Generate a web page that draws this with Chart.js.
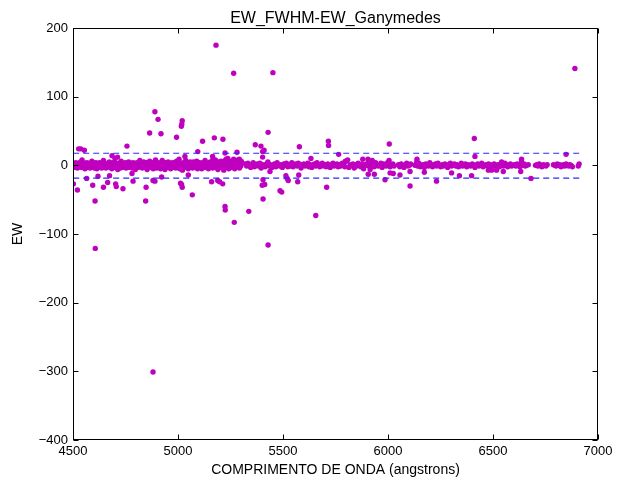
<!DOCTYPE html>
<html><head><meta charset="utf-8">
<script src="https://cdn.jsdelivr.net/npm/chart.js@4.4.0/dist/chart.umd.min.js"></script>
<style>html,body{margin:0;padding:0;background:#fff;} canvas{display:block;}</style>
</head><body>
<canvas id="c" width="627" height="477"></canvas>
<script>
const chartTitle = "EW_FWHM-EW_Ganymedes";
const xTitle = "COMPRIMENTO DE ONDA (angstrons)";
const yTitle = "EW";
const xTicks = [4500,5000,5500,6000,6500,7000];
const yTicks = [-400,-300,-200,-100,0,100,200];
const thresholds = [17.6,-18.6];
const thresholdSpan = [4501, 6911];

// dense band 4500-5300
const denseWl = [
4506,4509,4513,4518,4521,4525,4530,4533,4537,4541,4545,4550,4553,4557,4561,4566,4569,4573,4578,4581,
4585,4590,4593,4597,4602,4605,4609,4614,4617,4621,4626,4629,4633,4637,4642,4645,4649,4654,4657,4661,
4665,4670,4673,4677,4682,4685,4689,4693,4698,4701,4705,4710,4713,4717,4722,4725,4729,4733,4738,4741,
4745,4750,4753,4757,4762,4765,4769,4773,4778,4781,4785,4790,4793,4797,4802,4805,4809,4813,4818,4821,
4825,4830,4833,4837,4842,4845,4849,4853,4858,4861,4865,4870,4873,4877,4882,4885,4889,4893,4898,4901,
4905,4910,4913,4917,4922,4925,4929,4933,4938,4941,4945,4950,4953,4957,4962,4965,4969,4973,4978,4981,
4985,4990,4993,4997,5002,5005,5009,5013,5018,5021,5025,5030,5033,5037,5042,5045,5049,5053,5058,5061,
5065,5070,5073,5077,5082,5085,5089,5093,5098,5101,5105,5110,5113,5117,5122,5125,5129,5133,5138,5141,
5145,5150,5153,5157,5162,5165,5169,5173,5178,5181,5185,5190,5193,5197,5202,5205,5209,5213,5218,5221,
5225,5230,5233,5237,5242,5245,5249,5253,5258,5261,5265,5270,5273,5277,5282,5285,5289,5293,5298,5301,
5305];
const denseEw = [
2,-3,4,1,-4,3,0,-2,5,-3,1,4,-1,-5,2,4,-3,0,3,-4,
1,6,-2,3,-4,0,4,-5,2,-1,4,-3,3,-4,0,7,-2,3,-4,1,
-1,3,5,-3,2,-5,4,0,-3,4,-2,1,-6,3,2,-4,6,-1,3,-3,
0,4,-4,2,-2,5,-3,3,1,-4,4,-1,3,-6,2,4,-3,0,7,-2,
3,-4,1,5,-3,0,4,-6,3,-1,6,-3,2,4,-5,1,-2,8,-4,3,
-3,4,0,-5,3,7,-2,2,-6,4,1,-3,5,-1,3,-5,0,4,-3,2,
4,-4,6,1,-2,9,-5,3,0,-7,4,2,-3,7,-1,3,-5,1,5,-3,
2,-4,5,0,-3,3,6,-5,1,4,-2,3,-5,4,0,-3,7,2,-1,3,
-5,3,5,-2,1,-4,4,0,8,-3,2,-6,5,3,-3,6,-1,4,-7,3,
7,-3,5,10,-5,3,6,-3,0,6,9,-5,4,2,-2,8,5,-4,3,6,
4];
const dense2Wl = [
4508,4516,4523,4531,4540,4547,4555,4563,4571,4580,4587,4595,4603,4611,4619,4628,4635,4643,4651,4659,
4667,4675,4684,4691,4699,4708,4715,4723,4731,4740,4747,4755,4764,4771,4779,4787,4795,4804,4811,4819,
4827,4835,4844,4851,4859,4867,4875,4884,4891,4899,4907,4915,4924,4931,4939,4947,4955,4964,4971,4979,
4987,4995,5004,5011,5019,5027,5035,5044,5051,5059,5067,5075,5084,5091,5099,5107,5115,5124,5131,5139,
5147,5155,5164,5171,5179,5187,5195,5204,5211,5219,5227,5235,5244,5251,5259,5267,5275,5284,5291,5299];
const dense2Ew = [
0,-2,1,3,-1,2,-3,0,1,-2,3,-1,0,2,-3,1,-1,2,0,-2,
1,3,-2,0,2,-1,-3,1,0,3,-2,2,-1,0,1,-3,2,-1,3,0,
-1,2,0,-2,3,1,-1,0,-3,2,1,-2,0,3,-1,2,-2,1,0,-1,
2,0,-3,1,-1,3,0,-2,2,1,-1,0,3,-2,1,-1,2,0,-3,1,
0,2,-1,3,-2,1,0,-1,2,-3,1,3,-1,0,2,-2,1,0,3,-1];

// thinner band 5320-6910
const sparseWl = [
5322,5327,5333,5340,5346,5351,5358,5364,5371,5377,5383,5390,5396,5402,5409,5415,5421,5428,5434,5440,
5447,5453,5459,5466,5472,5478,5485,5491,5497,5504,5510,5516,5523,5529,5535,5542,5548,5554,5561,5567,
5573,5580,5586,5592,5599,5605,5611,5618,5624,5630,5637,5643,5649,5656,5662,5668,5675,5681,5687,5694,
5700,5706,5713,5719,5725,5732,5738,5744,5751,5757,5763,5770,5776,5782,5789,5795,5801,5808,5814,5820,
5827,5833,5839,5846,5852,5858,5865,5871,5877,5884,5890,5896,5903,5909,5915,5922,5928,5934,5941,5947,
5953,5960,5966,5972,5979,5985,5991,5998,6004,6010,6017,6023,6029,
6050,6056,6063,6069,6076,6082,6089,6095,6102,6108,
6128,6134,6141,6147,6154,6160,6167,6173,6180,6186,6193,6199,6206,6212,6219,6225,6232,6238,6245,6251,
6258,6264,6271,6277,6284,6290,6297,6303,6310,6316,6323,6329,6336,6342,6349,6355,6362,6368,6375,6381,
6388,6394,6401,6407,6414,6420,6427,6433,6440,6446,6453,6459,6466,6472,6479,6485,6492,6498,6505,6511,
6518,6524,6531,6537,6544,6550,6557,6563,6570,6576,6583,6589,6596,6602,6609,6615,6622,6628,6635,6641,
6648,6654,6661,6668,
6702,6708,6714,6720,6727,6733,6740,6746,6752,6758,
6788,6794,6800,6806,6812,6818,6824,6830,6836,6842,6848,6854,6860,6866,6872,6878,
6906,6910];
const sparseEw = [
2,-1,3,0,-3,1,4,-2,0,2,-1,3,-4,1,0,-2,2,5,-1,1,
-3,0,2,-2,4,0,-1,1,-3,2,0,3,-2,1,-1,4,-2,0,2,-1,
3,0,-4,1,2,-1,0,3,-2,1,-3,0,2,-1,4,1,-2,0,3,-1,
1,-2,2,0,-3,1,3,-1,0,2,-2,1,-1,3,0,-2,6,8,-3,1,
0,2,-4,1,-1,3,0,-2,2,-5,1,0,3,-1,-6,2,0,-2,4,1,
-1,0,3,-3,2,0,-1,4,1,-2,0,2,-1,
1,-2,2,0,-3,1,3,-1,0,2,
0,2,-1,3,-2,0,1,-3,2,0,-1,4,1,-2,0,2,-1,3,0,-2,
1,-1,2,0,-3,1,3,-1,0,2,-1,1,-2,0,3,-1,0,2,-2,1,
0,-1,2,1,-3,0,2,-1,1,3,-2,0,1,-1,2,0,-3,1,2,-1,
0,1,-2,2,0,-1,3,0,-2,1,2,-1,0,1,-1,2,0,-2,1,0,
2,-1,0,1,
0,1,-1,2,0,-2,1,0,-1,1,
1,0,-1,2,0,1,-2,0,1,-1,2,0,-1,1,0,-2,
-1,2];

// scattered points away from the band
const outlierWl = [
4527,4537,4554,4543,4686,4700,4712,4757,4865,4890,4905,4919,4993,5016,5018,5020,5033,5094,5117,5165,
5167,5173,5181,5214,5224,5229,5265,5281,5292,5368,5395,5403,5403,5410,5429,5452,5578,5633,5716,5717,
5765,5797,5880,5905,5925,6006,6005,6138,6137,6411,6414,6541,6636,6636,6848,6890,
4502,4521,4565,4594,4605,4606,4619,4645,4665,4674,4703,4706,4738,4781,4786,4846,4848,4881,4881,4890,
4922,5012,5017,5020,5049,5068,5160,5189,5198,5213,5224,5225,5268,5337,5401,5405,5405,5413,5429,5438,
5486,5494,5514,5520,5525,5570,5575,5656,5708,5906,5935,5986,6010,6025,6057,6105,6105,6173,6231,6303,
6340,6398,6478,6494,6517,6549,6632,6681];
const outlierEw = [
24,24,22,8,14,10,12,28,47,78,67,46,41,57,60,65,13,20,35,13,
9,40,175,38,18,9,134,19,9,30,28,20,12,22,48,135,27,10,35,29,
16,6,9,9,7,31,7,9,5,39,13,5,9,5,16,141,
-27,-36,-19,-29,-52,-121,-16,-32,-25,-15,-27,-31,-34,-12,-23,-52,-32,-22,-301,-23,
-17,-26,-28,-32,-14,-43,-24,-22,-24,-27,-60,-65,-83,-67,-29,-21,-49,-28,-116,-9,
-37,-39,-15,-19,-22,-24,-14,-73,-32,-13,-13,-21,-11,-12,-14,-30,-9,-10,-23,-11,
-15,-15,-7,-7,-7,-9,-9,-19];

function zip(a, b) {
  const n = Math.min(a.length, b.length);
  const out = [];
  for (let i = 0; i < n; i++) out.push({x: a[i], y: b[i]});
  return out;
}
const points = [].concat(zip(denseWl, denseEw), zip(dense2Wl, dense2Ew), zip(sparseWl, sparseEw), zip(outlierWl, outlierEw));

const FONT = "'Liberation Sans', Arial, Helvetica, sans-serif";
const fmt = v => String(v).replace('-', '\u2212');

const framePlugin = {
  id: 'frame',
  afterDraw(chart) {
    const {ctx, chartArea: a, scales} = chart;
    ctx.save();
    ctx.strokeStyle = '#000';
    ctx.lineWidth = 1;
    const L = Math.round(a.left) + 0.5, R = Math.round(a.right) - 0.5;
    const T = Math.round(a.top) + 0.5, B = Math.round(a.bottom) - 0.5;
    ctx.strokeRect(L, T, R - L, B - T);
    ctx.beginPath();
    const tl = 5;
    xTicks.forEach(v => {
      const p = Math.round(scales.x.getPixelForValue(v)) + 0.5;
      ctx.moveTo(p, B); ctx.lineTo(p, B - tl);
      ctx.moveTo(p, T); ctx.lineTo(p, T + tl);
    });
    yTicks.forEach(v => {
      const p = Math.round(scales.y.getPixelForValue(v)) + 0.5;
      ctx.moveTo(L, p); ctx.lineTo(L + tl, p);
      ctx.moveTo(R, p); ctx.lineTo(R - tl, p);
    });
    ctx.stroke();
    ctx.restore();
  }
};

new Chart(document.getElementById('c'), {
  type: 'scatter',
  data: {
    datasets: [
      {type: 'line', data: [{x: thresholdSpan[0], y: thresholds[0]}, {x: thresholdSpan[1], y: thresholds[0]}],
       borderColor: '#2a2aff', borderWidth: 1.2, borderDash: [6, 4], pointRadius: 0, fill: false},
      {type: 'line', data: [{x: thresholdSpan[0], y: thresholds[1]}, {x: thresholdSpan[1], y: thresholds[1]}],
       borderColor: '#2a2aff', borderWidth: 1.2, borderDash: [6, 4], pointRadius: 0, fill: false},
      {data: points, backgroundColor: '#bf00bf', borderColor: '#bf00bf', borderWidth: 0, pointRadius: 2.7}
    ]
  },
  options: {
    responsive: false,
    animation: false,
    devicePixelRatio: 1,
    layout: {padding: {left: 0, right: 29, top: 0, bottom: 0}},
    plugins: {
      legend: {display: false},
      tooltip: {enabled: false},
      title: {display: true, text: chartTitle, fullSize: false, color: '#000',
              font: {family: FONT, size: 16, weight: 'normal', lineHeight: 1}, padding: {top: 11, bottom: 1}}
    },
    scales: {
      x: {type: 'linear', min: 4500, max: 7000,
          afterFit: s => { s.height = 37; },
          afterBuildTicks: s => { s.ticks = xTicks.map(v => ({value: v})); },
          grid: {display: false, drawTicks: false}, border: {display: false},
          ticks: {color: '#000', font: {family: FONT, size: 13}, padding: 4, callback: fmt, maxRotation: 0, autoSkip: false},
          title: {display: true, text: xTitle, color: '#000', font: {family: FONT, size: 14, lineHeight: 1}, padding: {top: 0, bottom: 0}}},
      y: {type: 'linear', min: -400, max: 200,
          afterFit: s => { s.width = 73; },
          afterBuildTicks: s => { s.ticks = yTicks.map(v => ({value: v})); },
          grid: {display: false, drawTicks: false}, border: {display: false},
          ticks: {color: '#000', font: {family: FONT, size: 13}, padding: 5, callback: fmt, autoSkip: false},
          title: {display: true, text: yTitle, color: '#000', font: {family: FONT, size: 14, lineHeight: 1}, padding: {top: 11, bottom: 0}}}
    }
  },
  plugins: [framePlugin]
});
</script>
</body></html>
